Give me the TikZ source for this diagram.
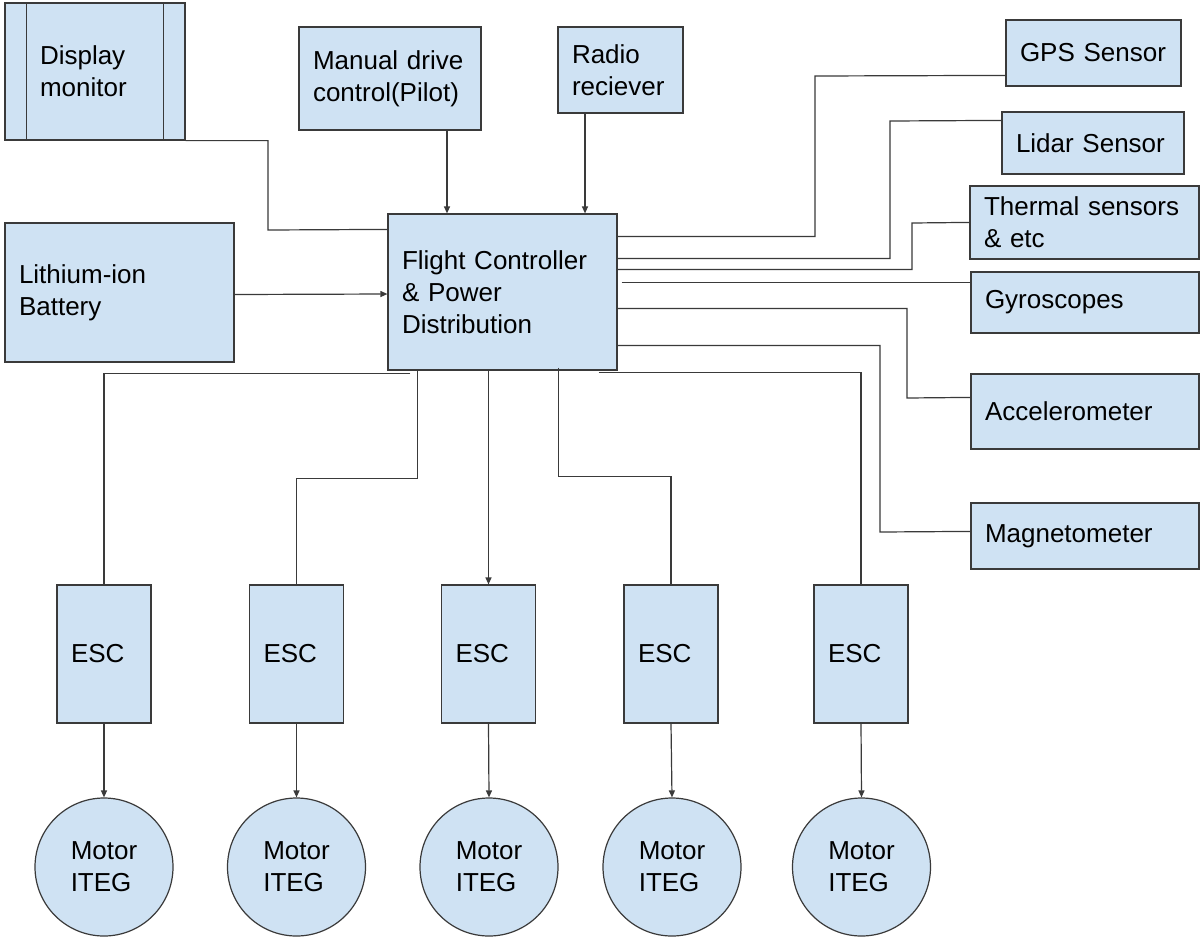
\documentclass[tikz,border=0pt]{standalone}
\usepackage{fontspec}
\setmainfont{Liberation Sans}
\usetikzlibrary{arrows.meta,calc}
\definecolor{boxfill}{HTML}{CFE2F3}
\definecolor{ink}{HTML}{3A3A3A}
\tikzset{
  blk/.style={draw=ink, line width=1.2pt, fill=boxfill, rectangle, inner sep=0pt,
    align=left, font=\fontsize{26}{32}\selectfont},
  motorc/.style={draw=ink, line width=1.2pt, fill=boxfill, circle, inner sep=0pt,
    minimum size=138pt, align=left, font=\fontsize{26}{32}\selectfont},
  wire/.style={draw=ink, line width=1.2pt},
  arr/.style={wire, -{Triangle[length=7pt,width=6pt]}}
}
\begin{document}
\begin{tikzpicture}[x=1pt,y=-1pt]
\useasboundingbox (0,0) rectangle (1201,938);
\fill[white] (0,0) rectangle (1201,938);

% top row
\node[blk, minimum width=180pt, minimum height=137pt, text width=110pt] (disp) at (95,71.5) {Display\\monitor};
\draw[wire] ([xshift=22pt]disp.north west) -- ([xshift=22pt]disp.south west);
\draw[wire] ([xshift=-22pt]disp.north east) -- ([xshift=-22pt]disp.south east);
\node[blk, minimum width=182pt, minimum height=103pt, text width=154pt] (manual) at (390,78.5) {Manual drive\\control(Pilot)};
\node[blk, minimum width=125pt, minimum height=86pt, text width=97pt] (radio) at (620.5,70) {Radio\\reciever};

% sensors
\node[blk, minimum width=175pt, minimum height=66pt, text width=147pt] (gps) at (1093.5,53) {GPS Sensor};
\node[blk, minimum width=182pt, minimum height=62pt, text width=154pt] (lidar) at (1093,143) {Lidar Sensor};
\node[blk, minimum width=229pt, minimum height=73pt, text width=201pt] (therm) at (1084.5,222.5) {Thermal sensors\\\& etc};
\node[blk, minimum width=228pt, minimum height=61pt, text width=200pt] (gyro) at (1085,302.5) {Gyroscopes};
\node[blk, minimum width=228pt, minimum height=75pt, text width=200pt] (accel) at (1085,411.5) {Accelerometer};
\node[blk, minimum width=228pt, minimum height=66pt, text width=200pt] (magn) at (1085,536) {Magnetometer};

% middle
\node[blk, minimum width=229pt, minimum height=139pt, text width=201pt] (batt) at (119.5,292.5) {Lithium-ion\\Battery};
\node[blk, minimum width=229pt, minimum height=156pt, text width=201pt] (fc) at (502.5,292) {Flight Controller\\\& Power\\Distribution};

% ESCs
\foreach \i/\x in {1/104,2/296.5,3/488.5,4/671,5/861}{
  \node[blk, minimum width=94pt, minimum height=138pt, text width=66pt] (esc\i) at (\x,654) {ESC};
}
% motors
\foreach \i/\x in {1/104,2/296.5,3/489,4/672,5/861.5}{
  \node[motorc] (mot\i) at (\x,867) {Motor\\ITEG};
}

% inputs to FC
\draw[wire] (disp.south east) -| (268,230) -- ([yshift=-16pt]fc.north west);
\coordinate (m1) at ([xshift=57pt]manual.south);
\draw[arr] (m1) -- (m1 |- fc.north);
\coordinate (r1) at ([xshift=-35.5pt]radio.south);
\draw[arr] (r1) -- (r1 |- fc.north);
\draw[arr] ([yshift=-2pt]batt.east) -- ([yshift=-2pt]fc.west);

% FC to sensors
\draw[wire] ([yshift=-23pt]fc.north east) -| (815,76) -- ([yshift=-56pt]gps.north west);
\draw[wire] ([yshift=-45pt]fc.north east) -| (890,121) -- ([yshift=-9pt]lidar.north west);
\draw[wire] ([yshift=-56pt]fc.north east) -| (912,223) -- ([yshift=-37pt]therm.north west);
\draw[wire] ([xshift=4pt,yshift=-69pt]fc.north east) -- ([yshift=-11pt]gyro.north west);
\draw[wire] ([yshift=-95pt]fc.north east) -| (907,398) -- ([yshift=-24pt]accel.north west);
\draw[wire] ([yshift=-132pt]fc.north east) -| (880,532) -- ([yshift=-29pt]magn.north west);

% FC to ESCs
\draw[wire] ([xshift=23pt,yshift=-3pt]fc.south west) -| (esc1.north);
\draw[wire] ([xshift=30pt]fc.south west) -- ++(0,108) -| (esc2.north);
\draw[arr] (fc.south -| esc3.north) -- (esc3.north);
\draw[wire] ([xshift=56pt,yshift=3pt]fc.south) -- ++(0,109) -| (esc4.north);
\draw[wire] ([xshift=-19pt,yshift=-2pt]fc.south east) -| (esc5.north);

% ESCs to motors
\foreach \i in {1,...,5}{
  \draw[arr] (esc\i.south) -- (mot\i.north);
}
\end{tikzpicture}
\end{document}
